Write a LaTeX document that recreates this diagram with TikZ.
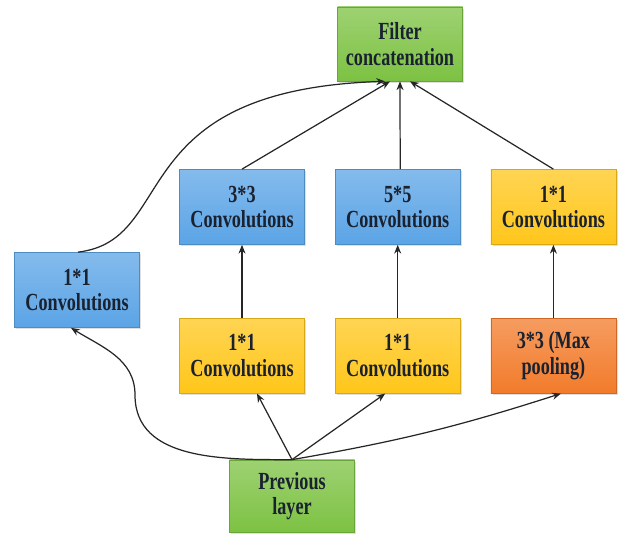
\documentclass[tikz,border=0pt]{standalone}
\usepackage{fontspec}
\setmainfont[FakeStretch=0.74]{Liberation Serif}
\usepackage{tikz}
\usetikzlibrary{arrows.meta,positioning,shadows}
\usepackage{xcolor}
\definecolor{leafgreen}{HTML}{7DC243}
\definecolor{skyblue}{HTML}{5BA4E6}
\definecolor{sunyellow}{HTML}{FFC61A}
\definecolor{burntorange}{HTML}{F27B2B}
\definecolor{inkdark}{HTML}{1A2230}

\begin{document}
\begin{tikzpicture}[
    layer/.style={rectangle, minimum width=2.5cm, minimum height=1.5cm,
                  align=center, text=inkdark,
                  font=\fontsize{14}{14.5}\selectfont\bfseries,
                  top color=#1!75!white, bottom color=#1,
                  draw=#1!85!black, line width=0.4pt,
                  drop shadow={opacity=0.25, shadow xshift=1pt, shadow yshift=-1pt}},
    arr/.style={-{Stealth[length=5pt,width=4pt]}, line width=0.7pt, black!85},
    node distance=0.6cm
  ]
    \useasboundingbox (0,0) rectangle (12.58,10.8);

    % Middle row
    \node[layer=skyblue] (c33) at (4.84,6.66) {3*3\\Convolutions};
    \node[layer=skyblue, right=of c33]     (c55)  {5*5\\Convolutions};
    \node[layer=sunyellow, right=of c55]   (c11r) {1*1\\Convolutions};

    % Lower row
    \node[layer=sunyellow, below=1.46cm of c33]  (r11a) {1*1\\Convolutions};
    \node[layer=sunyellow, below=1.46cm of c55]  (r11b) {1*1\\Convolutions};
    \node[layer=burntorange, below=1.46cm of c11r] (pool) {3*3 (Max\\pooling)};

    % Side branch, output, input
    \node[layer=skyblue] (c11l) at (1.54,5.0) {1*1\\Convolutions};
    \node[layer=leafgreen, minimum height=1.48cm] (filt) at (8.0,9.92)
      {Filter\\concatenation};
    \node[layer=leafgreen, minimum height=1.44cm] (prev) at (5.84,0.88)
      {Previous\\layer};

    % bend point of the side branch
    \coordinate (kink) at (2.7,2.9);

    % Input fan-out
    \draw[arr] (prev.north) to[out=180, in=-90] (kink)
      to[out=90, in=-32] ([xshift=-0.12cm]c11l.south);
    \draw[arr] (prev.north) -- ([xshift=0.3cm]r11a.south);
    \draw[arr] (prev.north) -- ([xshift=-0.25cm]r11b.south);
    \draw[arr] (prev.north) to[bend right=4] ([xshift=0.15cm]pool.south);

    % Vertical links
    \foreach \a/\b in {r11a/c33, r11b/c55, pool/c11r}
      \draw[arr] (\a) -- (\b);

    % Into concatenation
    \draw[arr] ([xshift=0.02cm]c11l.north) .. controls (3.6,6.0) and (2.4,9.0)
      .. ([xshift=-0.3cm]filt.south);
    \draw[arr] (c33.north) -- ([xshift=-0.2cm]filt.south);
    \draw[arr] ([xshift=0.05cm]c55.north) -- (filt.south);
    \draw[arr] (c11r.north) -- ([xshift=0.2cm]filt.south);
  \end{tikzpicture}
\end{document}
